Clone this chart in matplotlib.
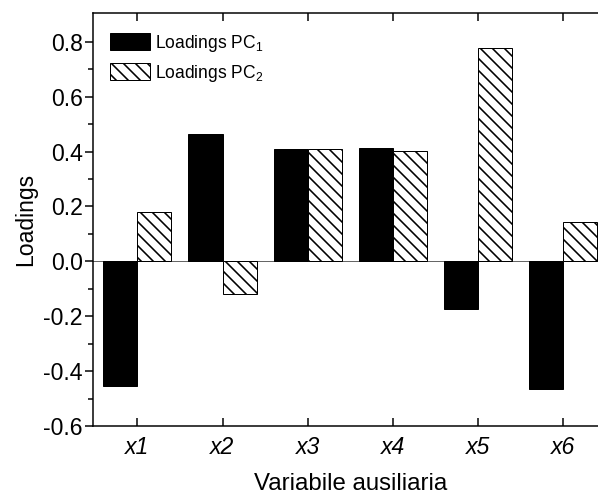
import matplotlib
matplotlib.use("Agg")
import matplotlib.pyplot as plt
import numpy as np

# PCA loadings for the auxiliary variables
variables = ["x1", "x2", "x3", "x4", "x5", "x6"]
pc1 = [-0.455, 0.465, 0.41, 0.413, -0.175, -0.467]
pc2 = [0.178, -0.12, 0.41, 0.403, 0.776, 0.142]

plt.rcParams['font.family'] = ['Liberation Sans', 'DejaVu Sans']
plt.rcParams['mathtext.fontset'] = 'custom'
plt.rcParams['mathtext.rm'] = 'Liberation Sans'
plt.rcParams['mathtext.it'] = 'Liberation Sans:italic'
plt.rcParams['hatch.linewidth'] = 1.6

# 72 dpi so that one point is one pixel and the hatch spacing stays wide
fig = plt.figure(figsize=(598 / 72, 498 / 72), dpi=72)
ax = fig.add_axes([0.1555, 0.1446, 0.8606, 0.8293])

x = np.arange(1, len(variables) + 1)
w = 0.4
ax.bar(x - w / 2, pc1, w, color="black", edgecolor="black", linewidth=1,
       label="Loadings PC$_\\mathrm{1}$")
ax.bar(x + w / 2, pc2, w, color="white", edgecolor="black", linewidth=1,
       hatch="\\\\", label="Loadings PC$_\\mathrm{2}$")
ax.axhline(0, color="#666666", linewidth=1, zorder=0.5)

ax.set_xlim(0.48, 6.52)
ax.set_ylim(-0.6, 0.905)
ax.set_xticks(x)
ax.set_xticklabels(variables, fontstyle="italic")
ax.set_yticks(np.arange(-0.6, 0.81, 0.2))
ax.set_yticklabels([f"{v:.1f}" for v in np.arange(-0.6, 0.81, 0.2)])
ax.set_yticks(np.arange(-0.5, 0.81, 0.2), minor=True)

for s in ax.spines.values():
    s.set_linewidth(1.5)
ax.tick_params(axis="y", which="major", direction="out", length=8, width=1.5,
               pad=2, labelsize=23)
ax.tick_params(axis="y", which="minor", direction="out", length=5, width=1.5)
ax.tick_params(axis="x", which="major", direction="in", length=8, width=1.5,
               pad=10, labelsize=23, top=True)

ax.set_xlabel("Variabile ausiliaria", fontsize=24, labelpad=14)
ax.set_ylabel("Loadings", fontsize=23, labelpad=6)

leg = ax.legend(loc="upper left", bbox_to_anchor=(0.033, 0.952), frameon=False,
                fontsize=17.5, handlelength=2.3, handleheight=1.1,
                handletextpad=0.3, labelspacing=0.5, borderpad=0,
                borderaxespad=0)

fig.savefig("out.png", dpi=72)
